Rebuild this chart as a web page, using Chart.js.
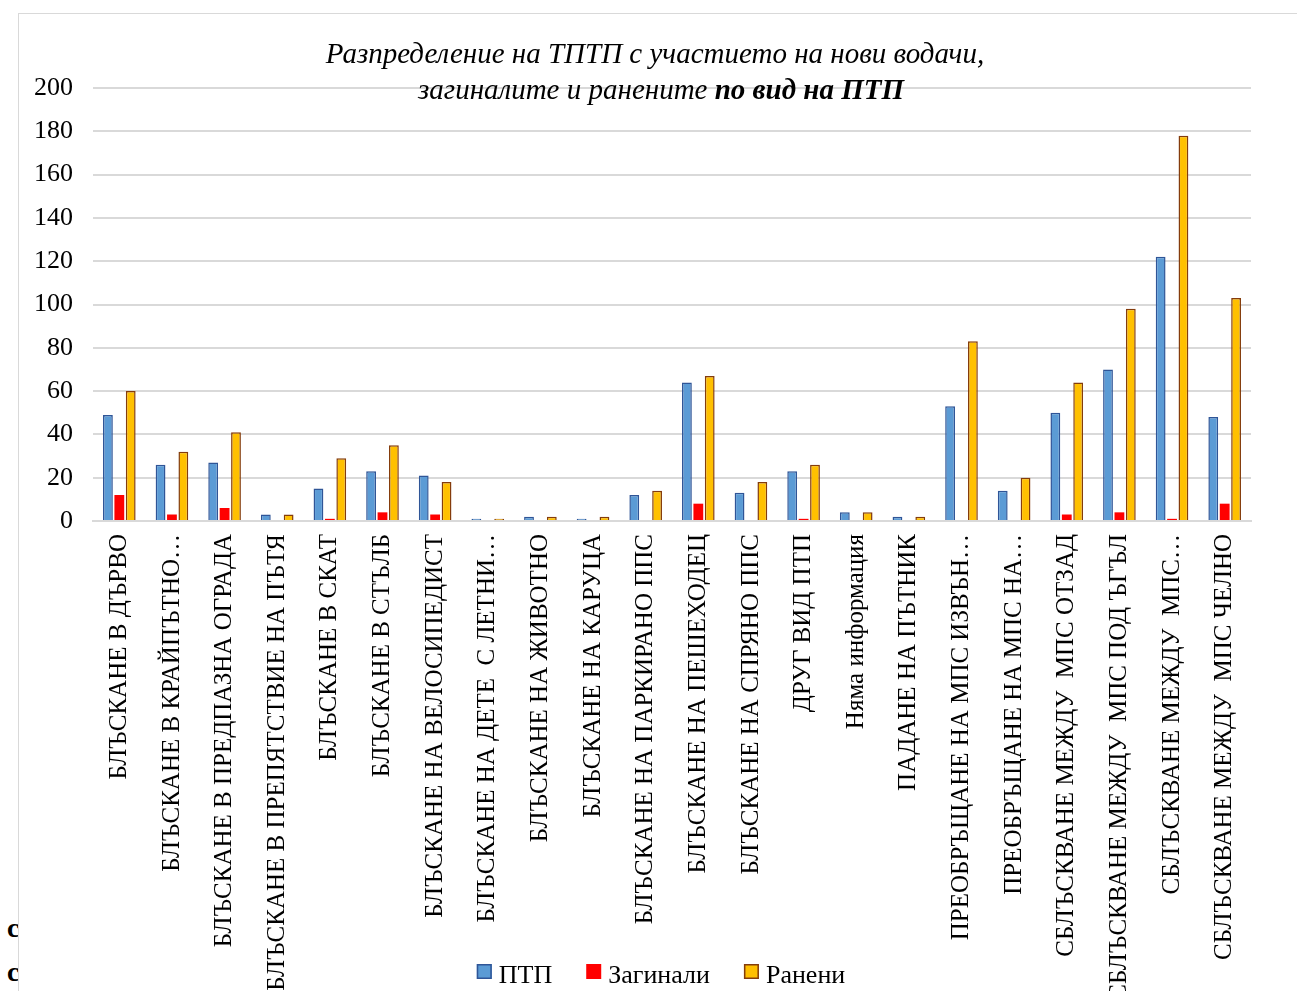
<!DOCTYPE html>
<html lang="bg">
<head>
  <meta charset="UTF-8">
  <title>Разпределение на ТПТП по вид на ПТП</title>
  <style>
    body {
      margin: 0;
      width: 1297px;
      height: 991px;
      overflow: hidden;
      background: #fff;
      font-family: 'Liberation Serif', 'Times New Roman', serif;
    }
    /* bits of the page text peeking out left of the chart frame */
    .behind {
      position: absolute;
      left: 7px;
      font-size: 28px;
      font-weight: bold;
      line-height: 1;
      color: #000;
    }
    #frame {
      position: absolute;
      left: 18px;
      top: 13px;
      width: 1400px;
      height: 1100px;
      border: 1.5px solid #d9d9d9;
      background: #fff;
    }
    #wrap {
      position: absolute;
      left: 0;
      top: 0;
      width: 1297px;
      height: 991px;
    }
  </style>
</head>
<body>

  <div class="behind" style="top:914px">с</div>
  <div class="behind" style="top:958px">с</div>
  <div id="frame"></div>

  <div id="wrap">
    <canvas id="crashChart"></canvas>
  </div>

  <script src="https://cdn.jsdelivr.net/npm/chart.js"></script>

  <script>
    const categories = [
      'БЛЪСКАНЕ В ДЪРВО',
      'БЛЪСКАНЕ В КРАЙПЪТНО…',
      'БЛЪСКАНЕ В ПРЕДПАЗНА ОГРАДА',
      'БЛЪСКАНЕ В ПРЕПЯТСТВИЕ НА ПЪТЯ',
      'БЛЪСКАНЕ В СКАТ',
      'БЛЪСКАНЕ В СТЪЛБ',
      'БЛЪСКАНЕ НА ВЕЛОСИПЕДИСТ',
      'БЛЪСКАНЕ НА ДЕТЕ  С ЛЕТНИ…',
      'БЛЪСКАНЕ НА ЖИВОТНО',
      'БЛЪСКАНЕ НА КАРУЦА',
      'БЛЪСКАНЕ НА ПАРКИРАНО ППС',
      'БЛЪСКАНЕ НА ПЕШЕХОДЕЦ',
      'БЛЪСКАНЕ НА СПРЯНО ППС',
      'ДРУГ ВИД ПТП',
      'Няма информация',
      'ПАДАНЕ НА ПЪТНИК',
      'ПРЕОБРЪЩАНЕ НА МПС ИЗВЪН…',
      'ПРЕОБРЪЩАНЕ НА МПС НА…',
      'СБЛЪСКВАНЕ МЕЖДУ  МПС ОТЗАД',
      'СБЛЪСКВАНЕ МЕЖДУ  МПС ПОД ЪГЪЛ',
      'СБЛЪСКВАНЕ МЕЖДУ  МПС…',
      'СБЛЪСКВАНЕ МЕЖДУ  МПС ЧЕЛНО'
    ];

    const ptp     = [49, 26, 27, 3, 15, 23, 21, 1, 2, 1, 12, 64, 13, 23, 4, 2, 53, 14, 50, 70, 122, 48];
    const killed  = [12, 3, 6, 0, 1, 4, 3, 0, 0, 0, 0, 8, 0, 1, 0, 0, 0, 0, 3, 4, 1, 8];
    const injured = [60, 32, 41, 3, 29, 35, 18, 1, 2, 2, 14, 67, 18, 26, 4, 2, 83, 20, 64, 98, 178, 103];

    const seriesNames = ['ПТП', 'Загинали', 'Ранени'];
    const yTicks = [0, 20, 40, 60, 80, 100, 120, 140, 160, 180, 200];

    const titleLine1 = 'Разпределение на ТПТП с участието на нови водачи,';
    const titleLine2a = 'загиналите и ранените ';
    const titleLine2b = 'по вид на ПТП';

    const SERIF = "'Liberation Serif', 'Times New Roman', serif";
    Chart.defaults.font.family = SERIF;
    Chart.defaults.color = '#000';

    // title (mixed italic / bold italic) and legend drawn straight on the canvas
    const textPlugin = {
      id: 'textBits',
      afterDraw(chart) {
        const ctx = chart.ctx;
        ctx.save();
        ctx.fillStyle = '#000';
        ctx.textBaseline = 'alphabetic';

        ctx.font = 'italic 29px ' + SERIF;
        ctx.textAlign = 'center';
        ctx.fillText(titleLine1, 655, 63);

        ctx.textAlign = 'left';
        ctx.font = 'italic 29px ' + SERIF;
        const wa = ctx.measureText(titleLine2a).width;
        ctx.font = 'italic bold 29px ' + SERIF;
        const wb = ctx.measureText(titleLine2b).width;
        let x = 661 - (wa + wb) / 2;
        ctx.font = 'italic 29px ' + SERIF;
        ctx.fillText(titleLine2a, x, 99);
        ctx.font = 'italic bold 29px ' + SERIF;
        ctx.fillText(titleLine2b, x + wa, 99);

        // legend
        ctx.font = '26px ' + SERIF;
        const box = 15, gapBox = 7, gapItem = 34;
        const ds = chart.data.datasets;
        const widths = ds.map(d => box + gapBox + ctx.measureText(d.label).width);
        const total = widths.reduce((a, b) => a + b, 0) + gapItem * (ds.length - 1);
        x = 661 - total / 2;
        ds.forEach((d, i) => {
          ctx.fillStyle = d.backgroundColor;
          ctx.fillRect(x, 964, box, box);
          if (d.borderWidth) {
            ctx.strokeStyle = d.borderColor;
            ctx.lineWidth = 1.5;
            ctx.strokeRect(x + 0.75, 964.75, box - 1.5, box - 1.5);
          }
          ctx.fillStyle = '#000';
          ctx.fillText(d.label, x + box + gapBox, 983);
          x += widths[i] + gapItem;
        });
        ctx.restore();
      }
    };

    new Chart(document.getElementById('crashChart'), {
      type: 'bar',
      data: {
        labels: categories,
        datasets: [
          {
            label: seriesNames[0],
            data: ptp,
            backgroundColor: '#5B9BD5',
            borderColor: '#2F5597',
            borderWidth: 1.5
          },
          {
            label: seriesNames[1],
            data: killed,
            backgroundColor: '#FF0000',
            borderWidth: 0
          },
          {
            label: seriesNames[2],
            data: injured,
            backgroundColor: '#FFC000',
            borderColor: '#843C0C',
            borderWidth: 1.5
          }
        ]
      },
      options: {
        responsive: true,
        maintainAspectRatio: false,
        animation: false,
        categoryPercentage: 0.65,
        barPercentage: 0.86,
        layout: {
          padding: { top: 88, right: 46, bottom: 0, left: 34 }
        },
        plugins: {
          legend: { display: false },
          title: { display: false },
          tooltip: { enabled: false }
        },
        scales: {
          x: {
            grid: { display: false, drawTicks: false },
            border: { display: true, color: '#d9d9d9', width: 2 },
            ticks: {
              autoSkip: false,
              minRotation: 90,
              maxRotation: 90,
              padding: 13,
              font: { size: 25 },
              color: '#000'
            },
            afterFit(scale) { scale.height = 470; }
          },
          y: {
            min: 0,
            max: 200,
            afterBuildTicks(scale) { scale.ticks = yTicks.map(v => ({ value: v })); },
            grid: { color: '#d9d9d9', lineWidth: 2, drawTicks: false },
            border: { display: false },
            ticks: {
              padding: 20,
              font: { size: 26 },
              color: '#000'
            },
            afterFit(scale) { scale.width = 59; }
          }
        }
      },
      plugins: [textPlugin]
    });
  </script>

</body>
</html>
